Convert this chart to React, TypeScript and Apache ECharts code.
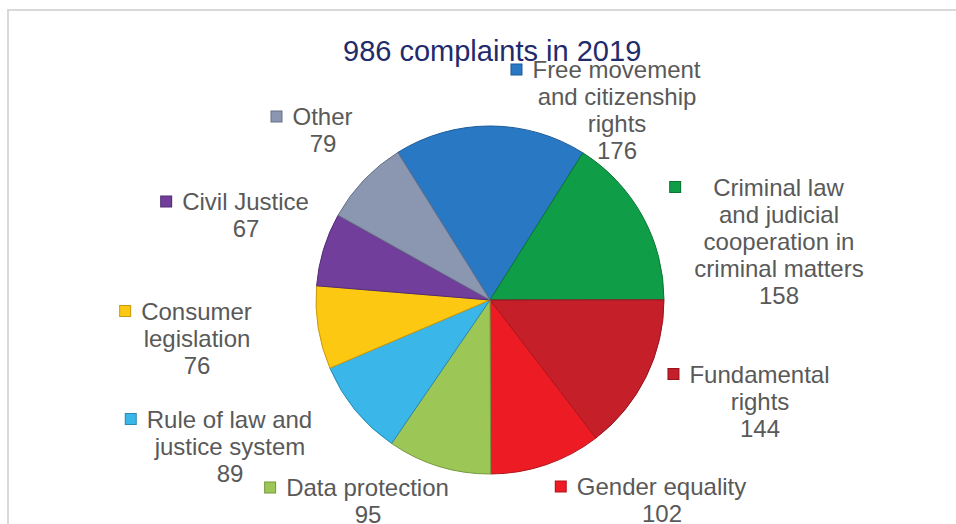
import React, { useEffect, useRef } from "react";
import * as echarts from "echarts";

const TITLE = "986 complaints in 2019";

const categories = [
  "Free movement\nand citizenship\nrights",
  "Criminal law\nand judicial\ncooperation in\ncriminal matters",
  "Fundamental\nrights",
  "Gender equality",
  "Data protection",
  "Rule of law and\njustice system",
  "Consumer\nlegislation",
  "Civil Justice",
  "Other",
];

const values = [176, 158, 144, 102, 95, 89, 76, 67, 79];

const colors = [
  "#2878c4",
  "#0f9d48",
  "#c51f2a",
  "#ed1c24",
  "#9cc757",
  "#3bb6e8",
  "#fcc812",
  "#713f9b",
  "#8b96b0",
];

const borderColors = [
  "#1b5a98",
  "#0b7535",
  "#951520",
  "#b3141b",
  "#76983f",
  "#2a8ab2",
  "#c89a0c",
  "#522c73",
  "#687087",
];

// label block centres (layout, not data)
const LABEL_POS: [number, number][] = [
  [617, 110],
  [779, 241],
  [760, 401],
  [662, 500],
  [368, 501],
  [230, 446],
  [197, 338],
  [246, 215],
  [323, 130],
];

export default function App() {
  const ref = useRef<HTMLDivElement>(null);

  useEffect(() => {
    if (!ref.current) return;
    const chart = echarts.init(ref.current, undefined, { renderer: "svg" });

    const rich: Record<string, any> = {
      g: { width: 11, height: 11, align: "left" },
      r: { width: 22, height: 11, align: "right" },
      gw: { width: 33, height: 11, align: "left" },
      rw: { width: 44, height: 11, align: "right" },
    };
    colors.forEach((c, i) => {
      rich["m" + i] = {
        width: 10,
        height: 10,
        backgroundColor: c,
        borderColor: borderColors[i],
        borderWidth: 1,
        align: "left",
        verticalAlign: "middle",
      };
    });

    chart.setOption({
      animation: false,
      backgroundColor: "#ffffff",
      title: {
        text: TITLE,
        left: 338,
        top: 31,
        textStyle: {
          fontFamily: "Liberation Sans, Arial, sans-serif",
          fontSize: 29,
          fontWeight: "normal",
          color: "#1f2b6b",
        },
      },
      graphic: [
        {
          type: "rect",
          shape: { x: 8, y: 10, width: 1000, height: 600 },
          style: { fill: "none", stroke: "#d9d9d9", lineWidth: 2 },
          silent: true,
        },
      ],
      series: [
        {
          type: "pie",
          center: [490, 300],
          radius: [0, 174],
          startAngle: 122,
          clockwise: true,
          avoidLabelOverlap: false,
          itemStyle: { borderWidth: 1 },
          label: {
            show: true,
            position: "outside",
            fontFamily: "Liberation Sans, Arial, sans-serif",
            fontSize: 24,
            lineHeight: 27,
            color: "#595959",
            align: "center",
            verticalAlign: "middle",
            rich,
            formatter: (p: any) => {
              const i = p.dataIndex;
              const lines = String(p.name).split("\n");
              const wide = i === 1;
              const first =
                "{m" + i + "|}" + (wide ? "{gw|}" : "{g|}") + lines[0] + (wide ? "{rw|}" : "{r|}");
              return [first, ...lines.slice(1), String(p.value)].join("\n");
            },
          },
          labelLine: { show: false },
          labelLayout: (p: any) => {
            const pos = LABEL_POS[p.dataIndex];
            return { x: pos[0], y: pos[1], align: "center", verticalAlign: "middle", hideOverlap: false };
          },
          emphasis: { disabled: true },
          data: categories.map((name, i) => ({
            name,
            value: values[i],
            itemStyle: { color: colors[i], borderColor: borderColors[i] },
          })),
        },
      ],
    });

    return () => chart.dispose();
  }, []);

  return (
    <div
      ref={ref}
      style={{ position: "fixed", left: 0, top: 0, width: 956, height: 524, background: "#fff" }}
    />
  );
}
